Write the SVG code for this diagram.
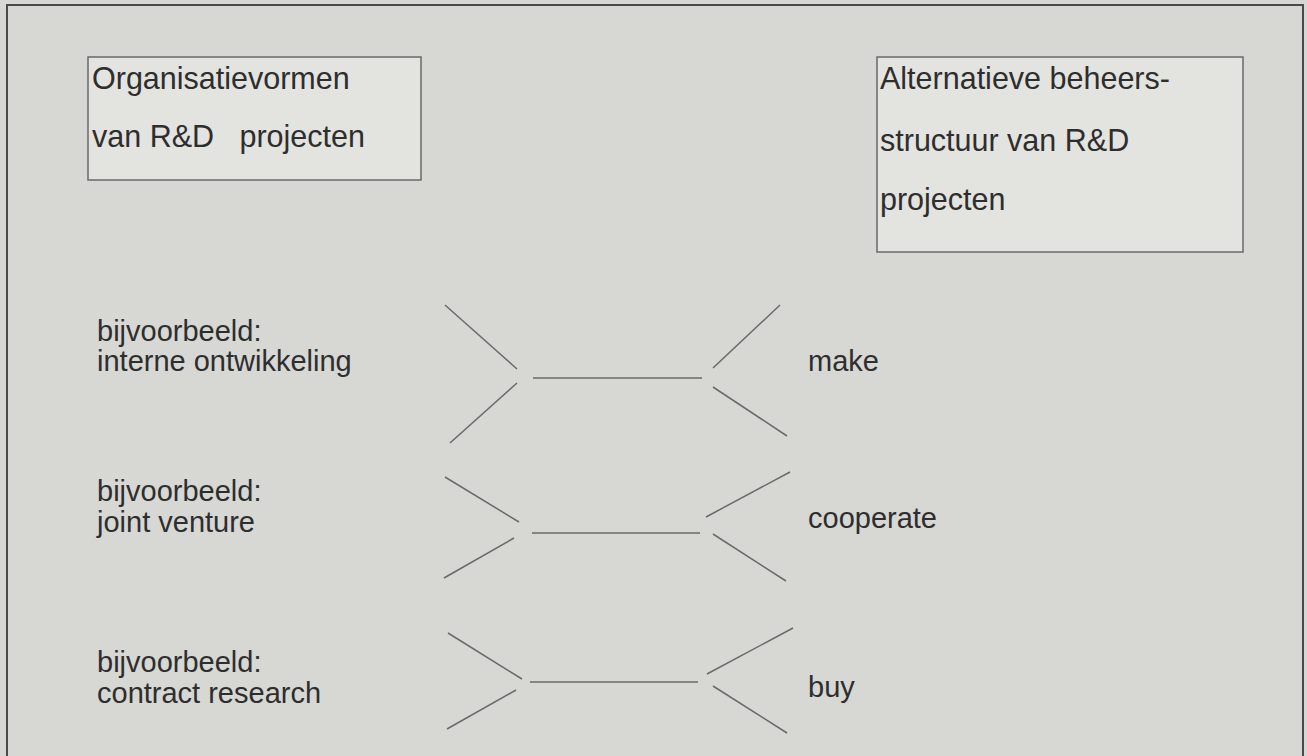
<svg xmlns="http://www.w3.org/2000/svg" width="1307" height="756" viewBox="0 0 1307 756">
<style>
  .bg { fill: #d7d7d4; }
  .frame { fill: none; stroke: #4a4a4a; stroke-width: 2; }
  .box { fill: #e3e3e0; stroke: #6a6a6a; stroke-width: 1.5; }
  text { font-family: "Liberation Sans", Arial, sans-serif; font-size: 29px; fill: #2e2e2e; white-space: pre; }
  .boxtext { font-size: 30.5px; }
  .conn line { stroke: #6a6a6a; stroke-width: 1.5; }
</style>
<rect class="bg" x="0" y="0" width="1307" height="756"/>
<rect class="frame" x="7" y="5" width="1296" height="760"/>
<g id="node-organisatievormen">
  <rect class="box" x="88" y="57" width="333" height="123"/>
  <text class="boxtext" x="92" y="89">Organisatievormen</text>
  <text class="boxtext" x="92" y="147" xml:space="preserve">van R&amp;D   projecten</text>
</g>
<g id="node-beheersstructuur">
  <rect class="box" x="877" y="57" width="366" height="195"/>
  <text class="boxtext" x="880" y="89">Alternatieve beheers-</text>
  <text class="boxtext" x="880" y="151">structuur van R&amp;D</text>
  <text class="boxtext" x="880" y="210">projecten</text>
</g>
<g id="node-interne">
  <text x="97" y="341">bijvoorbeeld:</text>
  <text x="97" y="371">interne ontwikkeling</text>
</g>
<g id="node-joint">
  <text x="97" y="501">bijvoorbeeld:</text>
  <text x="97" y="532">joint venture</text>
</g>
<g id="node-contract">
  <text x="97" y="672">bijvoorbeeld:</text>
  <text x="97" y="703">contract research</text>
</g>
<g id="node-make"><text x="808" y="371">make</text></g>
<g id="node-cooperate"><text x="808" y="528">cooperate</text></g>
<g id="node-buy"><text x="808" y="697">buy</text></g>
<g id="connectors" class="conn">
  <line x1="445" y1="305" x2="517" y2="369"/>
  <line x1="517" y1="383" x2="450" y2="443"/>
  <line x1="533" y1="378" x2="702" y2="378"/>
  <line x1="713" y1="368" x2="780" y2="305"/>
  <line x1="713" y1="387" x2="787" y2="436"/>

  <line x1="445" y1="477" x2="519" y2="522"/>
  <line x1="514" y1="538" x2="444" y2="578"/>
  <line x1="532" y1="533" x2="700" y2="533"/>
  <line x1="706" y1="517" x2="790" y2="472"/>
  <line x1="713" y1="534" x2="786" y2="581"/>

  <line x1="448" y1="633" x2="522" y2="679"/>
  <line x1="516" y1="690" x2="447" y2="729"/>
  <line x1="530" y1="682" x2="698" y2="682"/>
  <line x1="707" y1="674" x2="793" y2="628"/>
  <line x1="713" y1="686" x2="787" y2="733"/>
</g>
</svg>
